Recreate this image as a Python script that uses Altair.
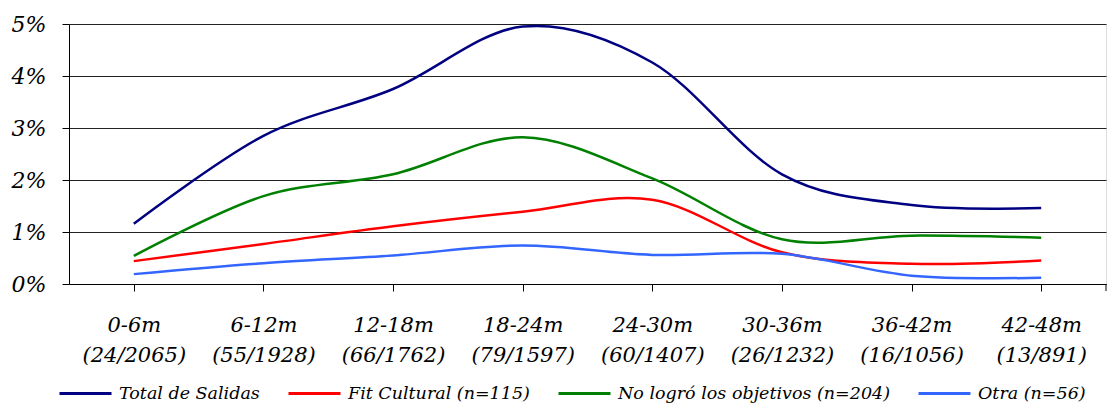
import altair as alt
import pandas as pd

categories = ["0-6m\n(24/2065)", "6-12m\n(55/1928)", "12-18m\n(66/1762)", "18-24m\n(79/1597)",
              "24-30m\n(60/1407)", "30-36m\n(26/1232)", "36-42m\n(16/1056)", "42-48m\n(13/891)"]
series_names = ["Total de Salidas", "Fit Cultural (n=115)", "No logró los objetivos (n=204)", "Otra (n=56)"]
total = [0.0116, 0.0285, 0.0375, 0.0495, 0.0426, 0.0211, 0.0152, 0.0146]
fit_cultural = [0.0044, 0.0077, 0.0111, 0.0139, 0.0162, 0.0061, 0.0039, 0.0045]
no_logro = [0.0054, 0.0169, 0.0211, 0.0282, 0.0203, 0.0086, 0.0093, 0.0089]
otra = [0.0019, 0.0040, 0.0055, 0.0074, 0.0056, 0.0058, 0.0016, 0.0012]
colors = ["#000080", "#FF0000", "#008000", "#3366FF"]
y_ticks = [0, 0.01, 0.02, 0.03, 0.04, 0.05]

rows = []
for name, vals in zip(series_names, [total, fit_cultural, no_logro, otra]):
    for i, (c, v) in enumerate(zip(categories, vals)):
        rows.append({"cat": c, "serie": name, "valor": v, "orden": series_names.index(name)})
df = pd.DataFrame(rows)

FONT = "DejaVu Serif"

lines = alt.Chart(df).mark_line(interpolate="cardinal", strokeWidth=2.5).encode(
    x=alt.X("cat:N", sort=categories, title=None,
            scale=alt.Scale(paddingInner=0, paddingOuter=0),
            axis=alt.Axis(labelExpr="split(datum.label, '\\n')", labelAngle=0,
                          bandPosition=0, tickSize=7, tickColor="black", domainColor="black",
                          labelFont=FONT, labelFontStyle="italic", labelFontSize=21,
                          labelColor="black", labelPadding=23, labelLineHeight=30,
                          grid=False, labelBaseline="top")),
    y=alt.Y("valor:Q", title=None,
            scale=alt.Scale(domain=[0, 0.05], nice=False),
            axis=alt.Axis(values=y_ticks, format=".0%", tickSize=7, tickColor="black",
                          domainColor="black", labelFont=FONT, labelFontStyle="italic",
                          labelFontSize=22, labelColor="black", labelPadding=16,
                          grid=True, gridColor="#222222", gridWidth=1)),
    color=alt.Color("serie:N", sort=series_names,
                    scale=alt.Scale(domain=series_names, range=colors),
                    legend=alt.Legend(title=None, orient="none", direction="horizontal",
                                      columns=4, legendX=-11, legendY=342,
                                      symbolType="stroke", symbolSize=2704,
                                      symbolStrokeWidth=3, labelFont=FONT,
                                      labelFontStyle="italic", labelFontSize=17.5,
                                      labelColor="black", labelOffset=6,
                                      columnPadding=22, labelLimit=400)),
    order="orden:Q",
)

end_tick = alt.Chart(pd.DataFrame({"a": [0]})).mark_rule(color="black", strokeWidth=1).encode(
    x=alt.value(1037), y=alt.value(260), y2=alt.value(267))

chart = alt.layer(lines, end_tick).properties(
    width=1037, height=260,
    autosize=alt.AutoSizeParams(type="none"),
    padding={"left": 69, "top": 24, "right": 2, "bottom": 122},
).configure_view(stroke=None).configure(background="white")

chart.save("out.html", embed_options={"renderer": "svg", "actions": False})
